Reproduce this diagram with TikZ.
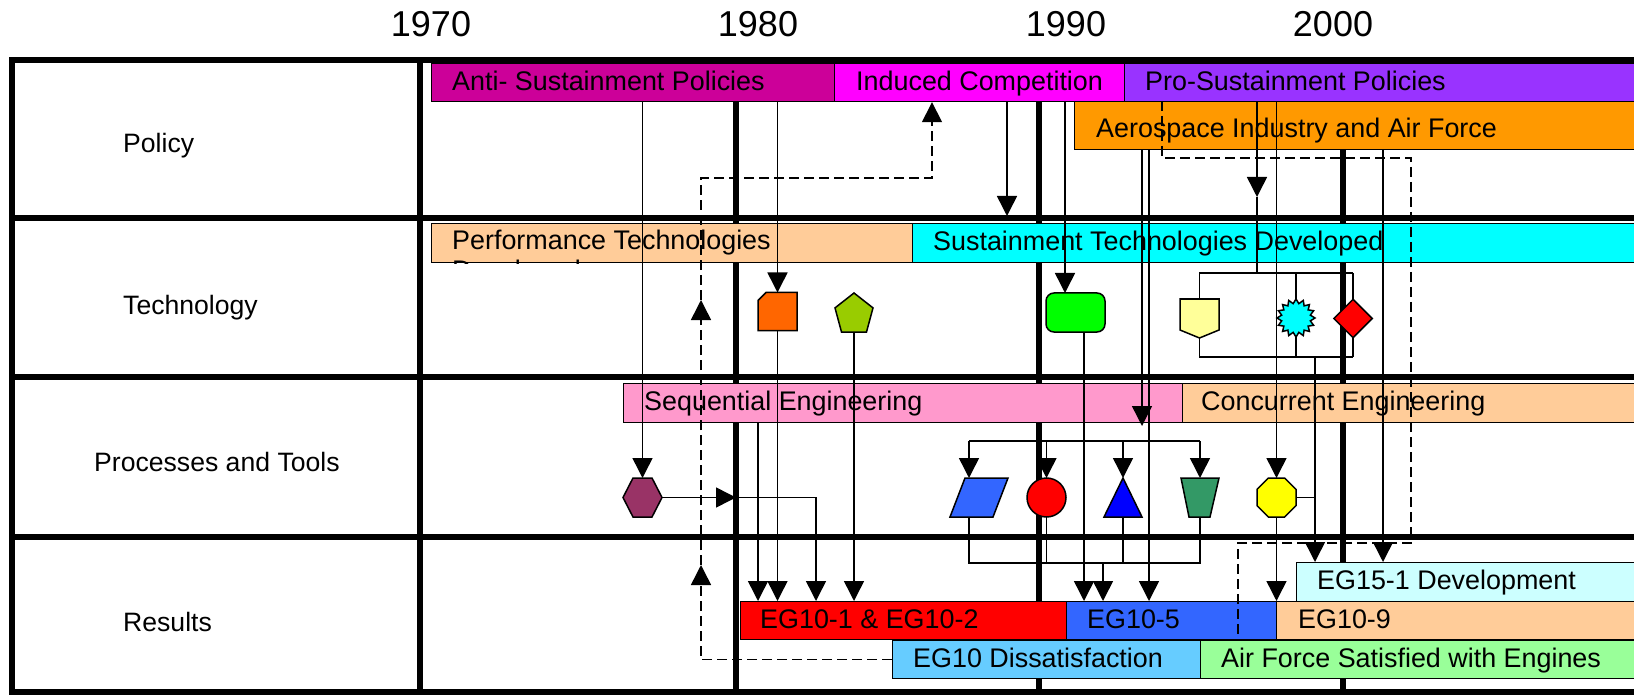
\documentclass[tikz,border=0pt]{standalone}
\usepackage{fontspec}
\setmainfont{Liberation Sans}
\usetikzlibrary{arrows.meta,shapes.geometric,calc}
\definecolor{cAnti}{RGB}{204,0,153}
\definecolor{cInd}{RGB}{255,0,255}
\definecolor{cPro}{RGB}{153,51,255}
\definecolor{cAero}{RGB}{255,153,0}
\definecolor{cPeach}{RGB}{255,204,153}
\definecolor{cCyan}{RGB}{0,255,255}
\definecolor{cPink}{RGB}{255,153,204}
\definecolor{cRed}{RGB}{255,0,0}
\definecolor{cBlueV}{RGB}{51,102,255}
\definecolor{cLtCyan}{RGB}{204,255,255}
\definecolor{cSky}{RGB}{102,204,255}
\definecolor{cLtGreen}{RGB}{153,255,153}
\definecolor{cOrange}{RGB}{255,102,0}
\definecolor{cOlive}{RGB}{153,204,0}
\definecolor{cLime}{RGB}{0,255,0}
\definecolor{cLtYellow}{RGB}{255,255,153}
\definecolor{cPlum}{RGB}{153,51,102}
\definecolor{cBlue}{RGB}{0,0,255}
\definecolor{cSea}{RGB}{51,153,102}
\definecolor{cYellow}{RGB}{255,255,0}
\begin{document}
\begin{tikzpicture}[x=1pt,y=-1pt,
  gridline/.style={line width=6.5pt},
  bar/.style={draw, line width=1.2pt, inner sep=0pt, anchor=north west},
  btxt/.style={anchor=base west, inner sep=0pt, font=\fontsize{26.9pt}{30pt}\selectfont},
  rowlbl/.style={anchor=base west, inner sep=0pt, font=\fontsize{26.6pt}{30pt}\selectfont},
  yearlbl/.style={anchor=base, inner sep=0pt, font=\fontsize{36pt}{40pt}\selectfont},
  conn/.style={line width=1.5pt},
  arr/.style={conn, -{Triangle[length=20pt,width=20pt]}},
  dsh/.style={conn, dash pattern=on 10pt off 5pt},
  dsharr/.style={dsh, -{Triangle[length=20pt,width=20pt]}},
  sbox/.style={inner sep=0pt, outer sep=0pt},
  shp/.style={draw, line width=1.5pt, line join=miter},
]
\useasboundingbox (0,0) rectangle (1634,695);

% ---------- table grid ----------
\draw[gridline, line join=miter] (1640,60) -- (12,60) -- (12,692) -- (1640,692);
\draw[gridline] (420,60) -- (420,692);
\draw[gridline] (12,218) -- (1640,218);
\draw[gridline] (12,377) -- (1640,377);
\draw[gridline] (12,537) -- (1640,537);
\draw[gridline] (736,60) -- (736,692);
\draw[gridline] (1039,60) -- (1039,692);
\draw[gridline] (1343,60) -- (1343,692);

% ---------- year labels ----------
\node[yearlbl] (y1970) at (431,36.5) {1970};
\node[yearlbl] (y1980) at (758,36.5) {1980};
\node[yearlbl] (y1990) at (1066,36.5) {1990};
\node[yearlbl] (y2000) at (1333,36.5) {2000};

% ---------- row labels ----------
\node[rowlbl] (lPolicy) at (123,153) {Policy};
\node[rowlbl] (lTech) at (123,314) {Technology};
\node[rowlbl] (lProc) at (94,471) {Processes and Tools};
\node[rowlbl] (lRes) at (123,631) {Results};

% ---------- bars ----------
\node[bar, fill=cAnti, minimum width=403pt, minimum height=38pt] (anti) at (431,63) {};
\node[bar, fill=cInd, minimum width=290pt, minimum height=38pt] (induced) at (834,63) {};
\node[bar, fill=cPro, minimum width=520pt, minimum height=38pt] (pro) at (1124,63) {};
\node[bar, fill=cAero, minimum width=570pt, minimum height=48pt] (aero) at (1074,101) {};
\node[bar, fill=cPeach, minimum width=481pt, minimum height=39pt] (perf) at (431,223) {};
\node[bar, fill=cCyan, minimum width=730pt, minimum height=39pt] (sust) at (912,223) {};
\node[bar, fill=cPink, minimum width=559pt, minimum height=39pt] (seq) at (623,383) {};
\node[bar, fill=cPeach, minimum width=460pt, minimum height=39pt] (conc) at (1182,383) {};
\node[bar, fill=cLtCyan, minimum width=346pt, minimum height=39pt] (eg15) at (1296,562) {};
\node[bar, fill=cRed, minimum width=326pt, minimum height=38pt] (eg101) at (740,601) {};
\node[bar, fill=cBlueV, minimum width=210pt, minimum height=38pt] (eg105) at (1066,601) {};
\node[bar, fill=cPeach, minimum width=366pt, minimum height=38pt] (eg109) at (1276,601) {};
\node[bar, fill=cSky, minimum width=308pt, minimum height=38pt] (diss) at (892,640) {};
\node[bar, fill=cLtGreen, minimum width=442pt, minimum height=38pt] (afsat) at (1200,640) {};

% ---------- bar texts ----------
\node[btxt] (antiT) at ([xshift=21pt,yshift=-7.5pt]anti.west) {Anti- Sustainment Policies};
\node[btxt] (inducedT) at ([xshift=22pt,yshift=-7.5pt]induced.west) {Induced Competition};
\node[btxt] (proT) at ([xshift=21pt,yshift=-7.5pt]pro.west) {Pro-Sustainment Policies};
\node[btxt] (aeroT) at ([xshift=22pt,yshift=-12pt]aero.west) {Aerospace Industry and Air Force};
\begin{scope}
  \clip (perf.north west) rectangle (perf.south east);
  \node[btxt, anchor=north west, align=left] (perfT) at ([xshift=21pt,yshift=-6.6pt]perf.north west) {Performance Technologies\\Developed};
\end{scope}
\node[btxt] (sustT) at ([xshift=21pt,yshift=-7pt]sust.west) {Sustainment Technologies Developed};
\node[btxt] (seqT) at ([xshift=21pt,yshift=-7pt]seq.west) {Sequential Engineering};
\node[btxt] (concT) at ([xshift=19pt,yshift=-7pt]conc.west) {Concurrent Engineering};
\node[btxt] (eg15T) at ([xshift=21pt,yshift=-7.5pt]eg15.west) {EG15-1 Development};
\node[btxt] (eg101T) at ([xshift=20pt,yshift=-7.5pt]eg101.west) {EG10-1 \& EG10-2};
\node[btxt] (eg105T) at ([xshift=21pt,yshift=-7.5pt]eg105.west) {EG10-5};
\node[btxt] (eg109T) at ([xshift=22pt,yshift=-7.5pt]eg109.west) {EG10-9};
\node[btxt] (dissT) at ([xshift=21pt,yshift=-8pt]diss.west) {EG10 Dissatisfaction};
\node[btxt] (afsatT) at ([xshift=21pt,yshift=-8pt]afsat.west) {Air Force Satisfied with Engines};

% ---------- shape nodes (positions) ----------
\node[sbox, minimum width=39pt, minimum height=38pt] (obox) at (777.5,311.5) {};
\node[sbox, minimum width=38pt, minimum height=39pt] (pent) at (854,312.5) {};
\node[sbox, minimum width=59pt, minimum height=39pt] (gboxP) at (1075.5,312.5) {};
\node[sbox, minimum width=39pt, minimum height=39pt] (offp) at (1199.5,318.5) {};
\node[sbox, minimum width=39pt, minimum height=39pt] (hex) at (642.5,497.5) {};
\node[sbox, minimum width=58pt, minimum height=39pt] (para) at (979,497.5) {};
\node[sbox, minimum width=39pt, minimum height=39pt] (circP) at (1046.5,497.5) {};
\node[sbox, minimum width=38pt, minimum height=39pt] (tri) at (1123,497.5) {};
\node[sbox, minimum width=38pt, minimum height=39pt] (trap) at (1200,497.5) {};
\node[sbox, minimum width=39pt, minimum height=39pt] (oct) at (1276.5,497.5) {};

% ---------- helper coordinates ----------
\coordinate (X758) at (758,0);
\coordinate (X816) at (816,0);
\coordinate (X736) at (736,0);
\coordinate (X1065) at (1065,0);
\coordinate (X1084) at (1084,0);
\coordinate (X1103) at (1103,0);
\coordinate (X1149) at (1149,0);
\coordinate (X1162) at (1162,0);
\coordinate (X1315) at (1315,0);
\coordinate (X1383) at (1383,0);
\coordinate (icTip) at (1007,216);
\coordinate (seqTip) at (1142,426);
\coordinate (pmid) at (1257,197);
\coordinate (brT1) at (969,441);
\coordinate (brT2) at (1200,441);
\coordinate (brB1) at (969,563);
\coordinate (brB2) at (1200,563);
\coordinate (bkTL) at (1199,273);
\coordinate (bkTR) at (1353,273);
\coordinate (bkBL) at (1199,357);
\coordinate (bkBR) at (1353,357);
\coordinate (dA) at (1411,158);
\coordinate (dB) at (1238,543);
\coordinate (dT1) at (701,565);
\coordinate (dT2) at (701,300);
\coordinate (dC) at (932,178);
\coordinate (starC) at (1296,318);
\coordinate (diamC) at (1353,318.5);

% ---------- connectors ----------
\draw[arr] (anti.south -| hex.north) -- (hex.north);
\draw[arr] (anti.south -| obox.north) -- (obox.north);
\draw[arr] (obox.south) -- (obox.south |- eg101.north);
\draw[arr] (pent.south) -- (pent.south |- eg101.north);
\draw[arr] (induced.south -| icTip) -- (icTip);
\draw[arr] (induced.south -| X1065) -- (gboxP.north -| X1065);
\draw[arr] (gboxP.south -| X1084) -- (eg105.north -| X1084);
\draw[arr] (hex.east) -- (hex.east -| X736);
\draw[arr] (hex.east -| X736) -| (eg101.north -| X816);
\draw[arr] (seq.south -| X758) -- (eg101.north -| X758);
\draw[arr] (aero.south -| seqTip) -- (seqTip);
\draw[conn] (brT1) -- (brT2);
\draw[arr] (brT1) -- (para.north -| brT1);
\draw[arr] (circP.north |- brT1) -- (circP.north);
\draw[arr] (tri.north |- brT1) -- (tri.north);
\draw[arr] (brT2) -- (trap.north);
\draw[conn] (para.south -| brB1) -- (brB1) -- (brB2) -- (trap.south);
\draw[conn] (circP.south) -- (circP.south |- brB1);
\draw[conn] (tri.south) -- (tri.south |- brB1);
\draw[arr] (brB1 -| X1103) -- (eg105.north -| X1103);
\draw[arr] (aero.south -| X1149) -- (eg105.north -| X1149);
\draw[arr] (pro.south -| pmid) -- (pmid);
\draw[conn] (pmid) -- (pmid |- bkTL);
\draw[conn] (bkTL) -- (bkTR);
\draw[conn] (bkBL) -- (bkBR);
\draw[conn] (offp.north |- bkTL) -- (offp.north);
\draw[conn] (offp.south) -- (offp.south |- bkBL);
\draw[conn] (starC |- bkTL) -- (starC |- bkBL);
\draw[conn] (diamC |- bkTL) -- (diamC |- bkBL);
\draw[arr] (bkBL -| X1315) -- (eg15.north -| X1315);
\draw[conn] (oct.east) -- (oct.east -| X1315);
\draw[arr] (pro.south -| oct.north) -- (oct.north);
\draw[arr] (oct.south) -- (oct.south |- eg109.north);
\draw[arr] (aero.south -| X1383) -- (eg15.north -| X1383);
\draw[dsh] (aero.north -| X1162) |- (dA) |- (dB) -- (afsat.north -| dB);
\draw[dsharr] (diss.west) -| (dT1);
\draw[dsharr] (dT1) -- (dT2);
\draw[dsharr] (dT2) |- (dC) -- (induced.south -| dC);

% ---------- shapes ----------
\filldraw[shp, fill=cOrange] ([xshift=8pt]obox.north west) -- (obox.north east) -- (obox.south east) -- (obox.south west) -- ([yshift=-8pt]obox.north west) -- cycle;
\filldraw[shp, fill=cOlive] (pent.north) -- ([yshift=-14.9pt]pent.north east) -- ([xshift=-6.5pt]pent.south east) -- ([xshift=6.5pt]pent.south west) -- ([yshift=-14.9pt]pent.north west) -- cycle;
\filldraw[shp, fill=cLime, rounded corners=8pt] (gboxP.north west) rectangle (gboxP.south east);
\filldraw[shp, fill=cLtYellow] (offp.north west) -- (offp.north east) -- ([yshift=8pt]offp.south east) -- (offp.south) -- ([yshift=8pt]offp.south west) -- cycle;
\node[shp, fill=cCyan, star, star points=16, star point ratio=1.3, minimum size=38pt, inner sep=0pt] (star) at (starC) {};
\node[shp, fill=cRed, diamond, minimum width=39pt, minimum height=39pt, inner sep=0pt] (diam) at (diamC) {};
\filldraw[shp, fill=cPlum] (hex.west) -- ([xshift=10pt]hex.north west) -- ([xshift=-10pt]hex.north east) -- (hex.east) -- ([xshift=-10pt]hex.south east) -- ([xshift=10pt]hex.south west) -- cycle;
\filldraw[shp, fill=cBlueV] ([xshift=15pt]para.north west) -- (para.north east) -- ([xshift=-15pt]para.south east) -- (para.south west) -- cycle;
\filldraw[shp, fill=cRed] (circP.center) circle[radius=19.5pt];
\filldraw[shp, fill=cBlue] (tri.north) -- (tri.south east) -- (tri.south west) -- cycle;
\filldraw[shp, fill=cSea] (trap.north west) -- (trap.north east) -- ([xshift=-9pt]trap.south east) -- ([xshift=8pt]trap.south west) -- cycle;
\filldraw[shp, fill=cYellow] ([xshift=11.4pt]oct.north west) -- ([xshift=-11.4pt]oct.north east) -- ([yshift=-11.4pt]oct.north east) -- ([yshift=11.4pt]oct.south east) -- ([xshift=-11.4pt]oct.south east) -- ([xshift=11.4pt]oct.south west) -- ([yshift=11.4pt]oct.south west) -- ([yshift=-11.4pt]oct.north west) -- cycle;
\end{tikzpicture}
\end{document}
